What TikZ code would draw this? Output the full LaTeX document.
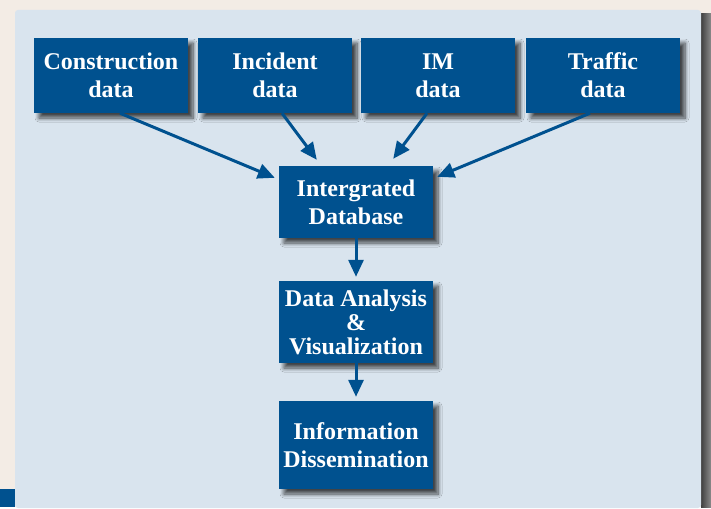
\documentclass[tikz,border=0pt]{standalone}
\usepackage{fontspec}
\setmainfont{Liberation Serif}
\usetikzlibrary{arrows.meta,shadows.blur}
\definecolor{boxblue}{HTML}{00518F}
\definecolor{panelblue}{HTML}{D9E4EE}
\definecolor{paper}{HTML}{F3ECE5}
\begin{document}
\begin{tikzpicture}[x=1pt,y=-1pt,
  stage/.style={fill=boxblue, text=white, align=center, inner sep=0pt,
    font=\bfseries\fontsize{24}{28}\selectfont,
    blur shadow={shadow xshift=5pt, shadow yshift=-5pt, shadow blur radius=4pt,
                 shadow blur steps=8, shadow opacity=70}},
  source/.style={stage, minimum width=154pt, minimum height=75pt},
  flow/.style={draw=boxblue, line width=3pt, -{Triangle[length=17pt,width=15pt]}}]

% page and panel
\fill[paper] (0,0) rectangle (711,507);
\shade[left color=black!75, right color=black!45] (701,14) rectangle (711,507);
\fill[panelblue, rounded corners=3pt] (15,10) rectangle (701,508);
\fill[boxblue] (0,489) rectangle (15,507);
\useasboundingbox (0,0) rectangle (711,507);

% source boxes
\node[source] (con) at (111,75.5) {Construction\\data};
\node[source] (inc) at (275,75.5) {Incident\\data};
\node[source] (im)  at (438,75.5) {IM\\data};
\node[source] (tra) at (603,75.5) {Traffic\\data};

% pipeline
\node[stage, minimum width=154pt, minimum height=72pt] (db) at (356,202) {Intergrated\\Database};
\node[stage, minimum width=154pt, minimum height=82pt,
      font=\bfseries\fontsize{24}{24}\selectfont] (ana) at (356,322) {Data Analysis\\\&\\Visualization};
\node[stage, minimum width=154pt, minimum height=88pt] (inf) at (356,445) {Information\\Dissemination};

% connectors
\draw[flow] ([xshift=9pt]con.south) -- ([xshift=-4pt,yshift=-12pt]db.north west);
\draw[flow] ([xshift=7pt]inc.south) -- ([xshift=38pt,yshift=6pt]db.north west);
\draw[flow] ([xshift=-11pt]im.south) -- ([xshift=-40pt,yshift=7pt]db.north east);
\draw[flow] ([xshift=-13pt]tra.south) -- ([xshift=4pt,yshift=-11pt]db.north east);
\draw[flow] (db.south) -- ([yshift=4pt]ana.north);
\draw[flow] (ana.south) -- ([yshift=4pt]inf.north);
\end{tikzpicture}
\end{document}
